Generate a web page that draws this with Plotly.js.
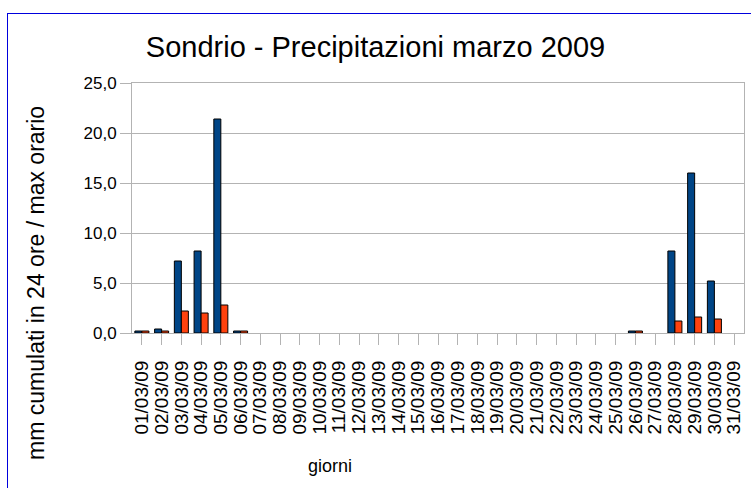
<!DOCTYPE html>
<html>
<head>
<meta charset="utf-8">
<script src="https://cdn.plot.ly/plotly-3.0.1.min.js"></script>
<style>
  html, body { margin: 0; padding: 0; background: #ffffff; }
  #wrap { position: relative; width: 751px; height: 488px; overflow: hidden; }
  #chart { width: 751px; height: 488px; }
  #frame { position: absolute; left: 7px; top: 13px; width: 800px; height: 600px;
           border-left: 1.5px solid #0000dd; border-top: 1.5px solid #0000dd; pointer-events: none; }
</style>
</head>
<body>
<div id="wrap">
  <div id="chart"></div>
  <div id="frame"></div>
</div>
<script>
// Days of March 2009
const days = [
  "01/03/09","02/03/09","03/03/09","04/03/09","05/03/09","06/03/09","07/03/09","08/03/09",
  "09/03/09","10/03/09","11/03/09","12/03/09","13/03/09","14/03/09","15/03/09","16/03/09",
  "17/03/09","18/03/09","19/03/09","20/03/09","21/03/09","22/03/09","23/03/09","24/03/09",
  "25/03/09","26/03/09","27/03/09","28/03/09","29/03/09","30/03/09","31/03/09"
];
// mm cumulated in 24 hours
const cumulati24h = [
  0.2, 0.4, 7.2, 8.2, 21.4, 0.2, 0, 0,
  0, 0, 0, 0, 0, 0, 0, 0,
  0, 0, 0, 0, 0, 0, 0, 0,
  0, 0.2, 0, 8.2, 16.0, 5.2, 0
];
// max hourly mm
const maxOrario = [
  0.2, 0.2, 2.2, 2.0, 2.8, 0.2, 0, 0,
  0, 0, 0, 0, 0, 0, 0, 0,
  0, 0, 0, 0, 0, 0, 0, 0,
  0, 0.2, 0, 1.2, 1.6, 1.4, 0
];
const yTicks = [0, 5, 10, 15, 20, 25];

const FONT = "Liberation Sans, Arial, sans-serif";
const GRID = "#b3b3b3";

// no outline on empty (zero) bars, as in the reference
const outline = vals => vals.map(v => (v > 0 ? 1 : 0));

const traces = [
  { type: "bar", name: "mm cumulati in 24 ore", x: days, y: cumulati24h,
    marker: { color: "#004586", line: { color: "#000000", width: outline(cumulati24h) } } },
  { type: "bar", name: "max orario", x: days, y: maxOrario,
    marker: { color: "#ff420e", line: { color: "#000000", width: outline(maxOrario) } } }
];

const layout = {
  width: 751, height: 488,
  margin: { l: 132, r: 7, t: 83, b: 155, pad: 0 },
  paper_bgcolor: "#ffffff", plot_bgcolor: "#ffffff",
  separators: ",.",
  showlegend: false,
  barmode: "group", bargap: 0.29, bargroupgap: 0,
  font: { family: FONT, color: "#000000" },
  title: { text: "Sondrio - Precipitazioni marzo 2009", font: { family: FONT, size: 29, color: "#000000" },
           x: 0.5, xref: "container", xanchor: "center", y: 0.905, yref: "container", yanchor: "middle" },
  xaxis: {
    type: "category", tickmode: "array", tickvals: days, ticktext: days,
    tickangle: -90, tickfont: { family: FONT, size: 19, color: "#000000" },
    ticks: "outside", ticklen: 11, tickcolor: GRID, tickwidth: 1, ticklabelstandoff: 8,
    showline: true, linecolor: GRID, linewidth: 1, mirror: true,
    showgrid: false, automargin: false
  },
  yaxis: {
    range: [0, 25], tickmode: "array", tickvals: yTicks, tickformat: ".1f",
    tickfont: { family: FONT, size: 17, color: "#000000" },
    ticks: "outside", ticklen: 11, tickcolor: GRID, tickwidth: 1,
    showgrid: true, gridcolor: GRID, gridwidth: 1,
    zeroline: false, showline: true, linecolor: GRID, linewidth: 1, mirror: true,
    automargin: false
  },
  annotations: [
    { text: "mm cumulati in 24 ore / max orario", textangle: -90, showarrow: false,
      xref: "paper", yref: "paper", x: -0.157, y: 0.2, xanchor: "center", yanchor: "middle",
      font: { family: FONT, size: 23, color: "#000000" } },
    { text: "giorni", showarrow: false,
      xref: "paper", yref: "paper", x: 0.3235, y: -0.532, xanchor: "center", yanchor: "middle",
      font: { family: FONT, size: 18, color: "#000000" } }
  ]
};

Plotly.newPlot("chart", traces, layout, { displayModeBar: false, staticPlot: true });
</script>
</body>
</html>
